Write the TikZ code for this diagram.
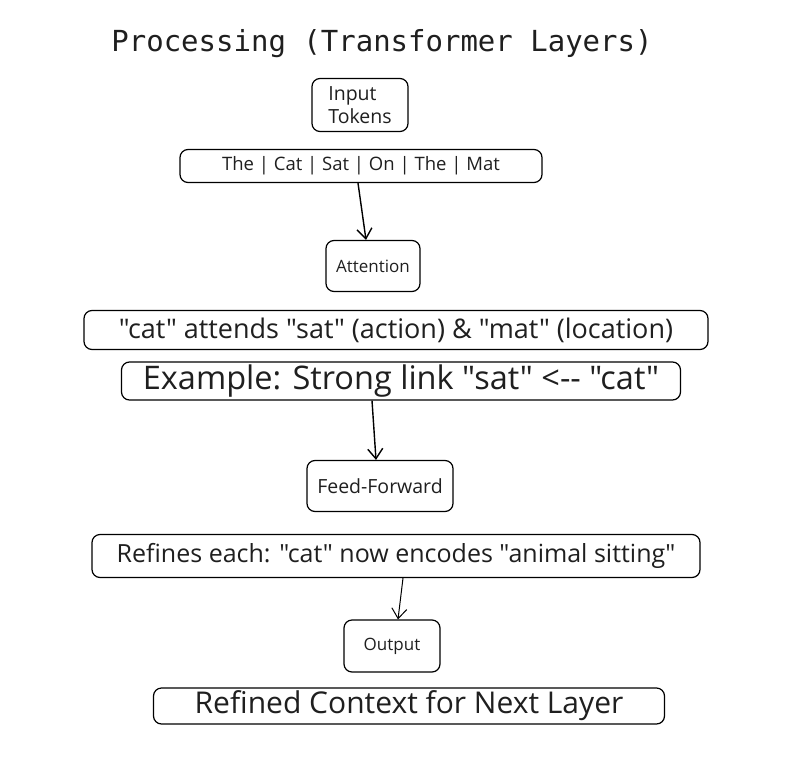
\documentclass[tikz,border=0pt]{standalone}
\usepackage{fontspec}
\setmainfont{Open Sans}[Ligatures={TeXOff,NoCommon}]
\setmonofont{DejaVu Sans Mono}
\usetikzlibrary{arrows.meta}

\tikzset{
  sketchbox/.style={draw, line width=1.2pt, rounded corners=8pt, inner sep=2pt},
  flowarrow/.style={-{Straight Barb[length=10pt,width=15pt]}, line width=1.4pt},
}

\begin{document}
\begin{tikzpicture}[x=1pt, y=-1pt, every node/.style={text=black!88}]
                \useasboundingbox (0,0) rectangle (797,757);
                \node (title) at (382,44) {\ttfamily\fontsize{29}{32}\selectfont Processing (Transformer Layers)};
                \node[sketchbox, minimum width=96pt, minimum height=53pt, align=left, font=\fontsize{19.5}{23}\selectfont] (input) at (360,105) {Input\\Tokens};
                \node[sketchbox, minimum width=362pt, minimum height=33pt, font=\fontsize{18.5}{20}\selectfont] (tokens) at (361,166) {The | Cat | Sat | On | The | Mat};
                \node[sketchbox, minimum width=94pt, minimum height=51pt, font=\fontsize{17}{19}\selectfont] (attn) at (373,266) {Attention};
                \node[sketchbox, minimum width=624pt, minimum height=39pt, font=\fontsize{27}{29}\selectfont] (attends) at (396,330) {"cat" attends "sat" (action) \& "mat" (location)};
                \node[sketchbox, minimum width=559pt, minimum height=38pt, font=\fontsize{32.5}{34}\selectfont] (example) at (401,381) {Example: Strong link "sat" <-- "cat"};
                \node[sketchbox, minimum width=146pt, minimum height=51pt, font=\fontsize{19.5}{21}\selectfont] (ff) at (380,486) {Feed-Forward};
                \node[sketchbox, minimum width=608pt, minimum height=43pt, font=\fontsize{25}{27}\selectfont] (refines) at (396,556) {Refines each: "cat" now encodes "animal sitting"};
                \node[sketchbox, minimum width=96pt, minimum height=52pt, font=\fontsize{17}{19}\selectfont] (out) at (392,646) {Output};
                \node[sketchbox, minimum width=511pt, minimum height=36pt, font=\fontsize{30}{31}\selectfont] (context) at (409,706) {Refined Context for Next Layer};
                % arrows between the stages
                \draw[flowarrow] ([xshift=-3pt]tokens.south) -- ([xshift=-7pt]attn.north);
                \draw[flowarrow] ([xshift=-29pt]example.south) -- ([xshift=-4pt]ff.north);
                \draw[flowarrow, line width=1pt] ([xshift=7pt]refines.south) -- ([xshift=6pt]out.north);
            \end{tikzpicture}
\end{document}
